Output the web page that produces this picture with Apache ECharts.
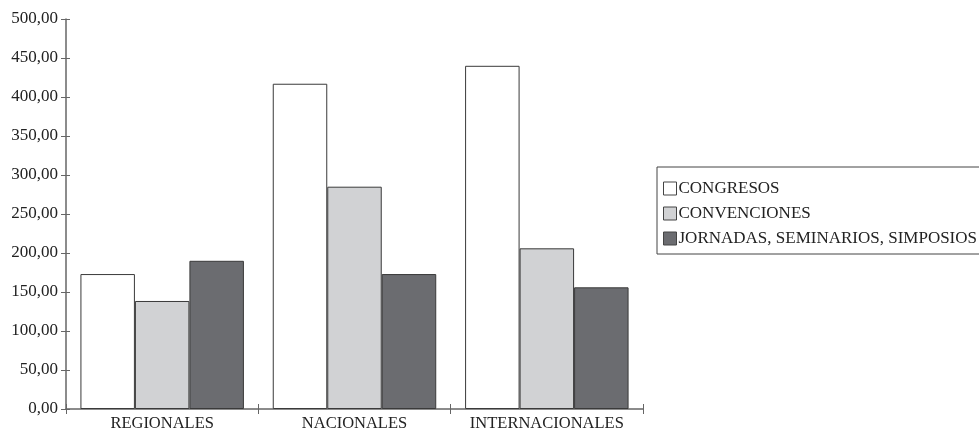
<!DOCTYPE html>
<html><head><meta charset="utf-8">
<script src="https://cdn.jsdelivr.net/npm/echarts@6/dist/echarts.min.js"></script>
<style>html,body{margin:0;padding:0;background:#fff}#c{width:979px;height:432px}</style>
</head><body><div id="c"></div>
<script>
const categories = ['REGIONALES', 'NACIONALES', 'INTERNACIONALES'];
const seriesNames = ['CONGRESOS', 'CONVENCIONES', 'JORNADAS, SEMINARIOS, SIMPOSIOS'];
const congresos = [173, 417, 440];
const convenciones = [138.5, 285, 206];
const jornadas = [190, 173, 156];
const yTicks = [0, 50, 100, 150, 200, 250, 300, 350, 400, 450, 500];

const colors = ['#ffffff', '#d1d2d4', '#6b6c70'];
const font = '"Liberation Serif", "Times New Roman", serif';
const axisColor = '#666';
const grid = { left: 66, top: 19, right: 336, bottom: 23 };

const chart = echarts.init(document.getElementById('c'));
const values = [congresos, convenciones, jornadas];
const series = values.map((v, i) => ({
  name: seriesNames[i], type: 'bar', data: v, xAxisIndex: 0, yAxisIndex: 0,
  barGap: '0%', barCategoryGap: '15%',
  itemStyle: { color: colors[i], borderColor: '#3a3a3a', borderWidth: 1 }
}));
chart.setOption({
  animation: false,
  textStyle: { fontFamily: font },
  grid: grid,
  legend: {
    orient: 'vertical', left: 657, top: 167,
    data: seriesNames,
    icon: 'rect', itemWidth: 13, itemHeight: 13, itemGap: 8,
    padding: [13, 30, 7, 6],
    borderColor: '#444', borderWidth: 1,
    textStyle: { fontFamily: font, fontSize: 17, color: '#222', padding: [0, 0, 0, -3] },
    itemStyle: { borderColor: '#444', borderWidth: 1 }
  },
  xAxis: [
    { type: 'category', data: categories, position: 'bottom',
      axisLine: { lineStyle: { color: axisColor, width: 1.5 } },
      axisTick: { show: true, length: 5, lineStyle: { color: axisColor } },
      axisLabel: { interval: 0, fontFamily: font, fontSize: 16.5, color: '#222', margin: 6 } },
    { type: 'category', data: categories, position: 'bottom', gridIndex: 0,
      axisLine: { show: false },
      axisTick: { show: true, inside: true, length: 5, lineStyle: { color: axisColor } },
      axisLabel: { show: false } }
  ],
  yAxis: [
    { type: 'value', min: 0, max: 500, interval: 50,
      axisLine: { show: true, lineStyle: { color: axisColor, width: 1.5 } },
      axisTick: { show: true, length: 5, lineStyle: { color: axisColor } },
      splitLine: { show: false },
      axisLabel: { fontFamily: font, fontSize: 17, color: '#222', margin: 8,
        formatter: v => v.toFixed(2).replace('.', ',') } },
    { type: 'value', min: 0, max: 500, interval: 50, position: 'left', gridIndex: 0,
      axisLine: { show: false },
      axisTick: { show: true, inside: true, length: 4, lineStyle: { color: axisColor } },
      splitLine: { show: false },
      axisLabel: { show: false } }
  ],
  series: series
});
</script></body></html>
